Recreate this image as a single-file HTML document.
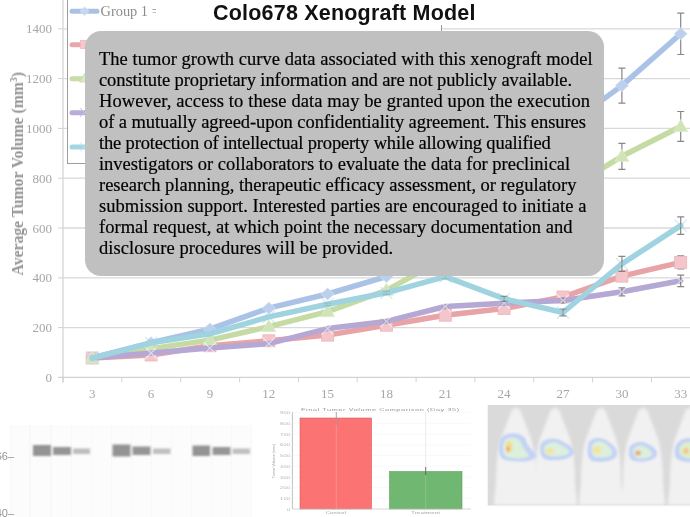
<!DOCTYPE html>
<html><head><meta charset="utf-8">
<style>
html,body{margin:0;padding:0;background:#fff;}
svg,#title,#ytitle{will-change:transform;}
#root{position:relative;width:690px;height:517px;overflow:hidden;background:#fff;}
svg text.tk{font-family:"Liberation Serif",serif;font-size:13px;fill:#a6a6a6;}
#ytitle{position:absolute;left:0;top:0;font-family:"Liberation Serif",serif;font-weight:bold;font-size:15.7px;color:#949494;white-space:nowrap;transform-origin:0 0;}
#legend{position:absolute;left:67px;top:-5px;width:374.5px;height:169px;border:1.5px solid #9c9c9c;background:#fff;box-sizing:border-box;}
#titlebg{position:absolute;left:155.5px;top:0;width:378px;height:25px;background:#fff;}
#title{position:absolute;left:213px;top:1px;font-family:"Liberation Sans",sans-serif;font-weight:bold;font-size:21.5px;color:#111;white-space:nowrap;letter-spacing:0.2px;}
#box{position:absolute;left:85px;top:31px;width:519px;height:244.8px;background:#c0c0c0;border-radius:16px;}
#box p{margin:0;will-change:transform;-webkit-text-stroke:0.2px #000;position:absolute;left:14.2px;top:18.3px;font-family:"Liberation Serif",serif;font-size:18.5px;line-height:21px;color:#000;white-space:nowrap;}
</style></head><body><div id="root">
<svg width="690" height="517" style="position:absolute;left:0;top:0">
<defs><filter id="cb" x="0" y="0" width="690" height="517" filterUnits="userSpaceOnUse"><feGaussianBlur stdDeviation="0.35"/></filter></defs>
<g filter="url(#cb)">
<line x1="63" y1="327.6" x2="690" y2="327.6" stroke="#d9d9d9" stroke-width="1.3"/>
<line x1="58" y1="327.6" x2="63" y2="327.6" stroke="#d2d2d2" stroke-width="1"/>
<line x1="63" y1="277.9" x2="690" y2="277.9" stroke="#d9d9d9" stroke-width="1.3"/>
<line x1="58" y1="277.9" x2="63" y2="277.9" stroke="#d2d2d2" stroke-width="1"/>
<line x1="63" y1="228.0" x2="690" y2="228.0" stroke="#d9d9d9" stroke-width="1.3"/>
<line x1="58" y1="228.0" x2="63" y2="228.0" stroke="#d2d2d2" stroke-width="1"/>
<line x1="63" y1="178.2" x2="690" y2="178.2" stroke="#d9d9d9" stroke-width="1.3"/>
<line x1="58" y1="178.2" x2="63" y2="178.2" stroke="#d2d2d2" stroke-width="1"/>
<line x1="63" y1="128.4" x2="690" y2="128.4" stroke="#d9d9d9" stroke-width="1.3"/>
<line x1="58" y1="128.4" x2="63" y2="128.4" stroke="#d2d2d2" stroke-width="1"/>
<line x1="63" y1="78.6" x2="690" y2="78.6" stroke="#d9d9d9" stroke-width="1.3"/>
<line x1="58" y1="78.6" x2="63" y2="78.6" stroke="#d2d2d2" stroke-width="1"/>
<line x1="63" y1="28.8" x2="690" y2="28.8" stroke="#d9d9d9" stroke-width="1.3"/>
<line x1="58" y1="28.8" x2="63" y2="28.8" stroke="#d2d2d2" stroke-width="1"/>
<line x1="63" y1="0" x2="63" y2="382.4" stroke="#d2d2d2" stroke-width="1.2"/>
<line x1="58" y1="377.4" x2="690" y2="377.4" stroke="#d2d2d2" stroke-width="1.2"/>
<line x1="63.0" y1="377.4" x2="63.0" y2="382.4" stroke="#d2d2d2" stroke-width="1"/>
<line x1="121.8" y1="377.4" x2="121.8" y2="382.4" stroke="#d2d2d2" stroke-width="1"/>
<line x1="180.7" y1="377.4" x2="180.7" y2="382.4" stroke="#d2d2d2" stroke-width="1"/>
<line x1="239.6" y1="377.4" x2="239.6" y2="382.4" stroke="#d2d2d2" stroke-width="1"/>
<line x1="298.4" y1="377.4" x2="298.4" y2="382.4" stroke="#d2d2d2" stroke-width="1"/>
<line x1="357.2" y1="377.4" x2="357.2" y2="382.4" stroke="#d2d2d2" stroke-width="1"/>
<line x1="416.1" y1="377.4" x2="416.1" y2="382.4" stroke="#d2d2d2" stroke-width="1"/>
<line x1="474.9" y1="377.4" x2="474.9" y2="382.4" stroke="#d2d2d2" stroke-width="1"/>
<line x1="533.8" y1="377.4" x2="533.8" y2="382.4" stroke="#d2d2d2" stroke-width="1"/>
<line x1="592.6" y1="377.4" x2="592.6" y2="382.4" stroke="#d2d2d2" stroke-width="1"/>
<line x1="651.5" y1="377.4" x2="651.5" y2="382.4" stroke="#d2d2d2" stroke-width="1"/>
<line x1="710.4" y1="377.4" x2="710.4" y2="382.4" stroke="#d2d2d2" stroke-width="1"/>
<text x="52" y="381.9" text-anchor="end" class="tk">0</text>
<text x="52" y="332.1" text-anchor="end" class="tk">200</text>
<text x="52" y="282.4" text-anchor="end" class="tk">400</text>
<text x="52" y="232.5" text-anchor="end" class="tk">600</text>
<text x="52" y="182.8" text-anchor="end" class="tk">800</text>
<text x="52" y="132.9" text-anchor="end" class="tk">1000</text>
<text x="52" y="83.1" text-anchor="end" class="tk">1200</text>
<text x="52" y="33.3" text-anchor="end" class="tk">1400</text>
<text x="92.2" y="397.8" text-anchor="middle" class="tk">3</text>
<text x="151.1" y="397.8" text-anchor="middle" class="tk">6</text>
<text x="209.9" y="397.8" text-anchor="middle" class="tk">9</text>
<text x="268.8" y="397.8" text-anchor="middle" class="tk">12</text>
<text x="327.6" y="397.8" text-anchor="middle" class="tk">15</text>
<text x="386.4" y="397.8" text-anchor="middle" class="tk">18</text>
<text x="445.3" y="397.8" text-anchor="middle" class="tk">21</text>
<text x="504.1" y="397.8" text-anchor="middle" class="tk">24</text>
<text x="563.0" y="397.8" text-anchor="middle" class="tk">27</text>
<text x="621.9" y="397.8" text-anchor="middle" class="tk">30</text>
<text x="680.7" y="397.8" text-anchor="middle" class="tk">33</text>
<polyline points="92.2,358.0 151.1,342.8 209.9,329.1 268.8,308.2 327.6,294.0 386.4,276.6 445.3,238.0 504.1,188.2 563.0,128.9 621.9,85.6 680.7,33.8" fill="none" stroke="#a9c2e6" stroke-width="5.5" stroke-linejoin="round" stroke-linecap="round"/>
<path d="M92.2 352.0L98.7 358.0L92.2 364.0L85.7 358.0Z" fill="#bcd0ee" stroke="#d0def2" stroke-width="0.8"/>
<path d="M151.1 336.8L157.6 342.8L151.1 348.8L144.6 342.8Z" fill="#bcd0ee" stroke="#d0def2" stroke-width="0.8"/>
<path d="M209.9 323.1L216.4 329.1L209.9 335.1L203.4 329.1Z" fill="#bcd0ee" stroke="#d0def2" stroke-width="0.8"/>
<path d="M268.8 307.0V309.5M265.2 307.0H272.2M265.2 309.5H272.2" stroke="#7a7a7a" stroke-width="1.2" stroke-opacity="0.35"/>
<path d="M268.8 302.2L275.3 308.2L268.8 314.2L262.3 308.2Z" fill="#bcd0ee" stroke="#d0def2" stroke-width="0.8"/>
<path d="M327.6 292.5V295.5M324.1 292.5H331.1M324.1 295.5H331.1" stroke="#7a7a7a" stroke-width="1.2" stroke-opacity="0.35"/>
<path d="M327.6 288.0L334.1 294.0L327.6 300.0L321.1 294.0Z" fill="#bcd0ee" stroke="#d0def2" stroke-width="0.8"/>
<path d="M386.4 274.6V278.6M382.9 274.6H389.9M382.9 278.6H389.9" stroke="#7a7a7a" stroke-width="1.2" stroke-opacity="0.35"/>
<path d="M386.4 270.6L392.9 276.6L386.4 282.6L379.9 276.6Z" fill="#bcd0ee" stroke="#d0def2" stroke-width="0.8"/>
<path d="M445.3 233.0V243.0M441.8 233.0H448.8M441.8 243.0H448.8" stroke="#7a7a7a" stroke-width="1.2" stroke-opacity="0.9"/>
<path d="M445.3 232.0L451.8 238.0L445.3 244.0L438.8 238.0Z" fill="#bcd0ee" stroke="#d0def2" stroke-width="0.8"/>
<path d="M504.1 180.7V195.7M500.6 180.7H507.6M500.6 195.7H507.6" stroke="#7a7a7a" stroke-width="1.2" stroke-opacity="0.9"/>
<path d="M504.1 182.2L510.6 188.2L504.1 194.2L497.6 188.2Z" fill="#bcd0ee" stroke="#d0def2" stroke-width="0.8"/>
<path d="M563.0 116.5V141.4M559.5 116.5H566.5M559.5 141.4H566.5" stroke="#7a7a7a" stroke-width="1.2" stroke-opacity="0.9"/>
<path d="M563.0 122.9L569.5 128.9L563.0 134.9L556.5 128.9Z" fill="#bcd0ee" stroke="#d0def2" stroke-width="0.8"/>
<path d="M621.9 68.2V103.1M618.4 68.2H625.4M618.4 103.1H625.4" stroke="#7a7a7a" stroke-width="1.2" stroke-opacity="0.9"/>
<path d="M621.9 79.6L628.4 85.6L621.9 91.6L615.4 85.6Z" fill="#bcd0ee" stroke="#d0def2" stroke-width="0.8"/>
<path d="M680.7 13.2V54.5M677.2 13.2H684.2M677.2 54.5H684.2" stroke="#7a7a7a" stroke-width="1.2" stroke-opacity="0.9"/>
<path d="M680.7 27.799999999999997L687.2 33.8L680.7 39.8L674.2 33.8Z" fill="#bcd0ee" stroke="#d0def2" stroke-width="0.8"/>
<polyline points="92.2,358.0 151.1,355.0 209.9,345.8 268.8,340.8 327.6,335.1 386.4,325.2 445.3,315.2 504.1,308.5 563.0,297.0 621.9,276.1 680.7,262.4" fill="none" stroke="#e8a3a6" stroke-width="5.5" stroke-linejoin="round" stroke-linecap="round"/>
<rect x="86.2" y="352.0" width="12" height="12" fill="#f4c6cc" stroke="#eab4b8" stroke-width="0.8"/>
<rect x="145.1" y="349.0" width="12" height="12" fill="#f4c6cc" stroke="#eab4b8" stroke-width="0.8"/>
<rect x="203.9" y="339.8" width="12" height="12" fill="#f4c6cc" stroke="#eab4b8" stroke-width="0.8"/>
<rect x="262.8" y="334.8" width="12" height="12" fill="#f4c6cc" stroke="#eab4b8" stroke-width="0.8"/>
<rect x="321.6" y="329.1" width="12" height="12" fill="#f4c6cc" stroke="#eab4b8" stroke-width="0.8"/>
<path d="M386.4 323.9V326.4M382.9 323.9H389.9M382.9 326.4H389.9" stroke="#7a7a7a" stroke-width="1.2" stroke-opacity="0.35"/>
<rect x="380.4" y="319.2" width="12" height="12" fill="#f4c6cc" stroke="#eab4b8" stroke-width="0.8"/>
<path d="M445.3 313.7V316.7M441.8 313.7H448.8M441.8 316.7H448.8" stroke="#7a7a7a" stroke-width="1.2" stroke-opacity="0.35"/>
<rect x="439.3" y="309.2" width="12" height="12" fill="#f4c6cc" stroke="#eab4b8" stroke-width="0.8"/>
<path d="M504.1 306.5V310.5M500.6 306.5H507.6M500.6 310.5H507.6" stroke="#7a7a7a" stroke-width="1.2" stroke-opacity="0.35"/>
<rect x="498.1" y="302.5" width="12" height="12" fill="#f4c6cc" stroke="#eab4b8" stroke-width="0.8"/>
<path d="M563.0 294.5V299.5M559.5 294.5H566.5M559.5 299.5H566.5" stroke="#7a7a7a" stroke-width="1.2" stroke-opacity="0.9"/>
<rect x="557.0" y="291.0" width="12" height="12" fill="#f4c6cc" stroke="#eab4b8" stroke-width="0.8"/>
<path d="M621.9 272.1V280.1M618.4 272.1H625.4M618.4 280.1H625.4" stroke="#7a7a7a" stroke-width="1.2" stroke-opacity="0.9"/>
<rect x="615.9" y="270.1" width="12" height="12" fill="#f4c6cc" stroke="#eab4b8" stroke-width="0.8"/>
<path d="M680.7 255.9V268.9M677.2 255.9H684.2M677.2 268.9H684.2" stroke="#7a7a7a" stroke-width="1.2" stroke-opacity="0.9"/>
<rect x="674.7" y="256.4" width="12" height="12" fill="#f4c6cc" stroke="#eab4b8" stroke-width="0.8"/>
<polyline points="92.2,358.0 151.1,348.6 209.9,340.1 268.8,326.7 327.6,311.7 386.4,290.3 445.3,257.9 504.1,223.1 563.0,192.2 621.9,156.3 680.7,126.5" fill="none" stroke="#c6dba4" stroke-width="5.5" stroke-linejoin="round" stroke-linecap="round"/>
<path d="M92.2 351.0L99.2 363.0L85.2 363.0Z" fill="#d0e4b8" stroke="#dcecc8" stroke-width="0.8"/>
<path d="M151.1 341.6L158.1 353.6L144.1 353.6Z" fill="#d0e4b8" stroke="#dcecc8" stroke-width="0.8"/>
<path d="M209.9 333.1L216.9 345.1L202.9 345.1Z" fill="#d0e4b8" stroke="#dcecc8" stroke-width="0.8"/>
<path d="M268.8 319.7L275.8 331.7L261.8 331.7Z" fill="#d0e4b8" stroke="#dcecc8" stroke-width="0.8"/>
<path d="M327.6 310.5V313.0M324.1 310.5H331.1M324.1 313.0H331.1" stroke="#7a7a7a" stroke-width="1.2" stroke-opacity="0.35"/>
<path d="M327.6 304.7L334.6 316.7L320.6 316.7Z" fill="#d0e4b8" stroke="#dcecc8" stroke-width="0.8"/>
<path d="M386.4 288.3V292.3M382.9 288.3H389.9M382.9 292.3H389.9" stroke="#7a7a7a" stroke-width="1.2" stroke-opacity="0.35"/>
<path d="M386.4 283.3L393.4 295.3L379.4 295.3Z" fill="#d0e4b8" stroke="#dcecc8" stroke-width="0.8"/>
<path d="M445.3 253.0V262.9M441.8 253.0H448.8M441.8 262.9H448.8" stroke="#7a7a7a" stroke-width="1.2" stroke-opacity="0.9"/>
<path d="M445.3 250.89999999999998L452.3 262.9L438.3 262.9Z" fill="#d0e4b8" stroke="#dcecc8" stroke-width="0.8"/>
<path d="M504.1 215.6V230.5M500.6 215.6H507.6M500.6 230.5H507.6" stroke="#7a7a7a" stroke-width="1.2" stroke-opacity="0.9"/>
<path d="M504.1 216.1L511.1 228.1L497.1 228.1Z" fill="#d0e4b8" stroke="#dcecc8" stroke-width="0.8"/>
<path d="M563.0 182.2V202.2M559.5 182.2H566.5M559.5 202.2H566.5" stroke="#7a7a7a" stroke-width="1.2" stroke-opacity="0.9"/>
<path d="M563.0 185.2L570.0 197.2L556.0 197.2Z" fill="#d0e4b8" stroke="#dcecc8" stroke-width="0.8"/>
<path d="M621.9 143.4V169.3M618.4 143.4H625.4M618.4 169.3H625.4" stroke="#7a7a7a" stroke-width="1.2" stroke-opacity="0.9"/>
<path d="M621.9 149.3L628.9 161.3L614.9 161.3Z" fill="#d0e4b8" stroke="#dcecc8" stroke-width="0.8"/>
<path d="M680.7 111.5V141.4M677.2 111.5H684.2M677.2 141.4H684.2" stroke="#7a7a7a" stroke-width="1.2" stroke-opacity="0.9"/>
<path d="M680.7 119.5L687.7 131.5L673.7 131.5Z" fill="#d0e4b8" stroke="#dcecc8" stroke-width="0.8"/>
<polyline points="92.2,358.0 151.1,353.0 209.9,348.1 268.8,343.6 327.6,328.6 386.4,321.4 445.3,306.5 504.1,303.2 563.0,300.5 621.9,291.8 680.7,280.8" fill="none" stroke="#b6a8d4" stroke-width="5.5" stroke-linejoin="round" stroke-linecap="round"/>
<path d="M86.2 352.0L98.2 364.0M98.2 352.0L86.2 364.0" stroke="#ffffff" stroke-opacity="0.55" stroke-width="1.2"/>
<path d="M145.1 347.0L157.1 359.0M157.1 347.0L145.1 359.0" stroke="#ffffff" stroke-opacity="0.55" stroke-width="1.2"/>
<path d="M203.9 342.1L215.9 354.1M215.9 342.1L203.9 354.1" stroke="#ffffff" stroke-opacity="0.55" stroke-width="1.2"/>
<path d="M262.8 337.6L274.8 349.6M274.8 337.6L262.8 349.6" stroke="#ffffff" stroke-opacity="0.55" stroke-width="1.2"/>
<path d="M321.6 322.6L333.6 334.6M333.6 322.6L321.6 334.6" stroke="#ffffff" stroke-opacity="0.55" stroke-width="1.2"/>
<path d="M386.4 320.2V322.7M382.9 320.2H389.9M382.9 322.7H389.9" stroke="#7a7a7a" stroke-width="1.2" stroke-opacity="0.35"/>
<path d="M380.4 315.4L392.4 327.4M392.4 315.4L380.4 327.4" stroke="#ffffff" stroke-opacity="0.55" stroke-width="1.2"/>
<path d="M445.3 305.0V308.0M441.8 305.0H448.8M441.8 308.0H448.8" stroke="#7a7a7a" stroke-width="1.2" stroke-opacity="0.35"/>
<path d="M439.3 300.5L451.3 312.5M451.3 300.5L439.3 312.5" stroke="#ffffff" stroke-opacity="0.55" stroke-width="1.2"/>
<path d="M504.1 301.3V305.2M500.6 301.3H507.6M500.6 305.2H507.6" stroke="#7a7a7a" stroke-width="1.2" stroke-opacity="0.35"/>
<path d="M498.1 297.2L510.1 309.2M510.1 297.2L498.1 309.2" stroke="#ffffff" stroke-opacity="0.55" stroke-width="1.2"/>
<path d="M563.0 298.0V303.0M559.5 298.0H566.5M559.5 303.0H566.5" stroke="#7a7a7a" stroke-width="1.2" stroke-opacity="0.9"/>
<path d="M557.0 294.5L569.0 306.5M569.0 294.5L557.0 306.5" stroke="#ffffff" stroke-opacity="0.55" stroke-width="1.2"/>
<path d="M621.9 287.8V295.8M618.4 287.8H625.4M618.4 295.8H625.4" stroke="#7a7a7a" stroke-width="1.2" stroke-opacity="0.9"/>
<path d="M615.9 285.8L627.9 297.8M627.9 285.8L615.9 297.8" stroke="#ffffff" stroke-opacity="0.55" stroke-width="1.2"/>
<path d="M680.7 275.1V286.6M677.2 275.1H684.2M677.2 286.6H684.2" stroke="#7a7a7a" stroke-width="1.2" stroke-opacity="0.9"/>
<path d="M674.7 274.8L686.7 286.8M686.7 274.8L674.7 286.8" stroke="#ffffff" stroke-opacity="0.55" stroke-width="1.2"/>
<polyline points="92.2,358.0 151.1,342.8 209.9,333.9 268.8,316.9 327.6,304.2 386.4,292.8 445.3,276.6 504.1,298.8 563.0,312.5 621.9,263.9 680.7,225.6" fill="none" stroke="#9fd3e0" stroke-width="5.5" stroke-linejoin="round" stroke-linecap="round"/>
<path d="M86.2 352.0L98.2 364.0M98.2 352.0L86.2 364.0" stroke="#9fd3e0" stroke-opacity="0.5" stroke-width="1.2"/>
<path d="M145.1 336.8L157.1 348.8M157.1 336.8L145.1 348.8" stroke="#9fd3e0" stroke-opacity="0.5" stroke-width="1.2"/>
<path d="M203.9 327.9L215.9 339.9M215.9 327.9L203.9 339.9" stroke="#9fd3e0" stroke-opacity="0.5" stroke-width="1.2"/>
<path d="M262.8 310.9L274.8 322.9M274.8 310.9L262.8 322.9" stroke="#9fd3e0" stroke-opacity="0.5" stroke-width="1.2"/>
<path d="M327.6 303.0V305.5M324.1 303.0H331.1M324.1 305.5H331.1" stroke="#7a7a7a" stroke-width="1.2" stroke-opacity="0.35"/>
<path d="M321.6 298.2L333.6 310.2M333.6 298.2L321.6 310.2" stroke="#9fd3e0" stroke-opacity="0.5" stroke-width="1.2"/>
<path d="M386.4 291.3V294.3M382.9 291.3H389.9M382.9 294.3H389.9" stroke="#7a7a7a" stroke-width="1.2" stroke-opacity="0.35"/>
<path d="M380.4 286.8L392.4 298.8M392.4 286.8L380.4 298.8" stroke="#9fd3e0" stroke-opacity="0.5" stroke-width="1.2"/>
<path d="M445.3 274.6V278.6M441.8 274.6H448.8M441.8 278.6H448.8" stroke="#7a7a7a" stroke-width="1.2" stroke-opacity="0.35"/>
<path d="M439.3 270.6L451.3 282.6M451.3 270.6L439.3 282.6" stroke="#9fd3e0" stroke-opacity="0.5" stroke-width="1.2"/>
<path d="M504.1 296.3V301.3M500.6 296.3H507.6M500.6 301.3H507.6" stroke="#7a7a7a" stroke-width="1.2" stroke-opacity="0.9"/>
<path d="M498.1 292.8L510.1 304.8M510.1 292.8L498.1 304.8" stroke="#9fd3e0" stroke-opacity="0.5" stroke-width="1.2"/>
<path d="M563.0 309.0V315.9M559.5 309.0H566.5M559.5 315.9H566.5" stroke="#7a7a7a" stroke-width="1.2" stroke-opacity="0.9"/>
<path d="M557.0 306.5L569.0 318.5M569.0 306.5L557.0 318.5" stroke="#9fd3e0" stroke-opacity="0.5" stroke-width="1.2"/>
<path d="M621.9 256.4V271.4M618.4 256.4H625.4M618.4 271.4H625.4" stroke="#7a7a7a" stroke-width="1.2" stroke-opacity="0.9"/>
<path d="M615.9 257.9L627.9 269.9M627.9 257.9L615.9 269.9" stroke="#9fd3e0" stroke-opacity="0.5" stroke-width="1.2"/>
<path d="M680.7 216.8V234.3M677.2 216.8H684.2M677.2 234.3H684.2" stroke="#7a7a7a" stroke-width="1.2" stroke-opacity="0.9"/>
<path d="M674.7 219.6L686.7 231.6M686.7 219.6L674.7 231.6" stroke="#9fd3e0" stroke-opacity="0.5" stroke-width="1.2"/>
</g>
</svg>
<div id="legend"></div>
<svg width="690" height="517" style="position:absolute;left:0;top:0">
<g>
<line x1="72" y1="11.3" x2="97" y2="11.3" stroke="#a9c1e4" stroke-width="5" stroke-linecap="round"/>
<path d="M84.5 7L89 11.3L84.5 15.6L80 11.3Z" fill="#c4d6f0" stroke="#d6e2f4" stroke-width="0.8"/>
<text x="100.5" y="15.8" style="font-family:'Liberation Serif',serif;font-size:14.4px;fill:#8c8c8c">Group 1 =</text>
<line x1="72" y1="44.7" x2="97" y2="44.7" stroke="#e8a8aa" stroke-width="5" stroke-linecap="round"/>
<rect x="80.5" y="40.5" width="8" height="8" fill="#f4c8cc" stroke="#f0b8bc" stroke-width="0.8"/>
<line x1="72" y1="78.7" x2="97" y2="78.7" stroke="#c8dca8" stroke-width="5" stroke-linecap="round"/>
<path d="M84.5 73.5L89.5 82L79.5 82Z" fill="#d8e8c0" stroke="#c8dca8" stroke-width="0.8"/>
<line x1="72" y1="112.7" x2="97" y2="112.7" stroke="#baacd6" stroke-width="5" stroke-linecap="round"/>
<path d="M80 108L89 117M89 108L80 117" stroke="#c8bee0" stroke-width="1"/>
<line x1="72" y1="147" x2="97" y2="147" stroke="#a4d6e2" stroke-width="5" stroke-linecap="round"/>
<path d="M80 142.5L89 151.5M89 142.5L80 151.5" stroke="#c0e2ea" stroke-width="1"/>
</g>

</svg>
<div id="ytitle" style="transform:translate(8px,275.5px) rotate(-90deg)">Average Tumor Volume (mm<sup style="font-size:10px">3</sup>)</div>
<div id="titlebg"></div>
<div id="title">Colo678 Xenograft Model</div>
<div id="box"><p><span style="letter-spacing:0.030px">The tumor growth curve data associated with this xenograft model</span><br><span style="letter-spacing:-0.088px">constitute proprietary information and are not publicly available.</span><br><span style="letter-spacing:0.103px">However, access to these data may be granted upon the execution</span><br><span style="letter-spacing:-0.077px">of a mutually agreed-upon confidentiality agreement. This ensures</span><br><span style="letter-spacing:-0.159px">the protection of intellectual property while allowing qualified</span><br><span style="letter-spacing:-0.021px">investigators or collaborators to evaluate the data for preclinical</span><br><span style="letter-spacing:-0.014px">research planning, therapeutic efficacy assessment, or regulatory</span><br><span style="letter-spacing:0.044px">submission support. Interested parties are encouraged to initiate a</span><br><span style="letter-spacing:0.023px">formal request, at which point the necessary documentation and</span><br><span style="letter-spacing:0.074px">disclosure procedures will be provided.</span></p></div>
<div id="blot" style="position:absolute;left:10px;top:425px;width:242px;height:92px;background:#f8f8f8;">
</div>
<svg width="690" height="517" style="position:absolute;left:0;top:0">
<defs>
<filter id="bl1" x="-20%" y="-50%" width="140%" height="200%"><feGaussianBlur stdDeviation="0.8"/></filter>
<filter id="bl2" x="-20%" y="-50%" width="140%" height="200%"><feGaussianBlur stdDeviation="1.2"/></filter>
</defs>
<g fill="#fcfcfc">
<rect x="11" y="425" width="18" height="92"/>
<rect x="31" y="425" width="19" height="92"/>
<rect x="52" y="425" width="19" height="92"/>
<rect x="72" y="425" width="19" height="92"/>
<rect x="92" y="425" width="19" height="92"/>
<rect x="112" y="425" width="19" height="92"/>
<rect x="132" y="425" width="19" height="92"/>
<rect x="152" y="425" width="19" height="92"/>
<rect x="172" y="425" width="19" height="92"/>
<rect x="192" y="425" width="19" height="92"/>
<rect x="212" y="425" width="19" height="92"/>
<rect x="232" y="425" width="19" height="92"/>
</g>
<g filter="url(#bl1)">
<rect x="33" y="445" width="18" height="11" fill="#939393"/>
<rect x="53" y="447" width="18" height="8" fill="#959595"/>
<rect x="73" y="448.5" width="17" height="5.5" fill="#bdbdbd"/>
<rect x="112.5" y="444.5" width="18" height="12" fill="#939393"/>
<rect x="132.5" y="446.5" width="18" height="8.5" fill="#959595"/>
<rect x="153" y="448.5" width="17.5" height="5.5" fill="#bfbfbf"/>
<rect x="192.5" y="445.5" width="17.5" height="10.5" fill="#939393"/>
<rect x="212.5" y="447" width="18" height="8" fill="#969696"/>
<rect x="232.5" y="448.5" width="17.5" height="5.5" fill="#bfbfbf"/>
</g>
<text x="14" y="459.5" text-anchor="end" style="font-family:'Liberation Sans',sans-serif;font-size:11px;fill:#959595">66–</text>
<text x="14" y="516.5" text-anchor="end" style="font-family:'Liberation Sans',sans-serif;font-size:11px;fill:#959595">40–</text>
</svg>
<svg width="690" height="517" style="position:absolute;left:0;top:0">
<g stroke="#f5f5f5" stroke-width="0.6">
<line x1="292.5" y1="412.6" x2="471" y2="412.6"/>
<line x1="292.5" y1="423.3" x2="471" y2="423.3"/>
<line x1="292.5" y1="434" x2="471" y2="434"/>
<line x1="292.5" y1="444.8" x2="471" y2="444.8"/>
<line x1="292.5" y1="455.5" x2="471" y2="455.5"/>
<line x1="292.5" y1="466.2" x2="471" y2="466.2"/>
<line x1="292.5" y1="477" x2="471" y2="477"/>
<line x1="292.5" y1="487.7" x2="471" y2="487.7"/>
<line x1="292.5" y1="498.4" x2="471" y2="498.4"/>
</g>
<rect x="300" y="418" width="71.5" height="91" fill="#fb7373" stroke="#d85c5c" stroke-width="0.6"/>
<rect x="389.5" y="471.5" width="72.5" height="37.5" fill="#70b872" stroke="#5ea060" stroke-width="0.6"/>
<line x1="336.3" y1="412" x2="336.3" y2="509" stroke="#ffffff" stroke-opacity="0.25" stroke-width="0.8"/>
<line x1="425.7" y1="412" x2="425.7" y2="509" stroke="#c8c8c8" stroke-opacity="0.6" stroke-width="0.6"/>
<line x1="336.3" y1="412" x2="336.3" y2="425" stroke="#909090" stroke-width="0.8"/>
<line x1="425.7" y1="467" x2="425.7" y2="475" stroke="#505050" stroke-width="0.8"/>
<line x1="292.4" y1="412" x2="292.4" y2="509" stroke="#a8a8a8" stroke-width="0.7"/>
<line x1="292.4" y1="509" x2="471" y2="509" stroke="#c4c4c4" stroke-width="0.7"/>
<g style="font-family:'Liberation Sans',sans-serif;font-size:5.6px;fill:#b2b2b2;letter-spacing:0.3px" text-anchor="end">
<text transform="translate(290.3,414.2) scale(1,0.75)">900</text>
<text transform="translate(290.3,424.9) scale(1,0.75)">800</text>
<text transform="translate(290.3,435.6) scale(1,0.75)">700</text>
<text transform="translate(290.3,446.3) scale(1,0.75)">600</text>
<text transform="translate(290.3,457.0) scale(1,0.75)">500</text>
<text transform="translate(290.3,467.8) scale(1,0.75)">400</text>
<text transform="translate(290.3,478.5) scale(1,0.75)">300</text>
<text transform="translate(290.3,489.2) scale(1,0.75)">200</text>
<text transform="translate(290.3,499.9) scale(1,0.75)">100</text>
<text transform="translate(290.3,510.6) scale(1,0.75)">0</text>
</g>
<text transform="translate(301,411.3) scale(1,0.55)" style="font-family:'Liberation Sans',sans-serif;font-size:7.3px;letter-spacing:0.6px;fill:#959595">Final Tumor Volume Comparison (Day 35)</text>
<text transform="translate(336,513.8) scale(1,0.6)" text-anchor="middle" style="font-family:'Liberation Sans',sans-serif;font-size:5.8px;letter-spacing:0.3px;fill:#a0a0a0">Control</text>
<text transform="translate(425.7,513.8) scale(1,0.6)" text-anchor="middle" style="font-family:'Liberation Sans',sans-serif;font-size:5.8px;letter-spacing:0.3px;fill:#a0a0a0">Treatment</text>
<text transform="translate(275,461) rotate(-90)" text-anchor="middle" style="font-family:'Liberation Sans',sans-serif;font-size:3.7px;fill:#969696">Tumor Volume (mm³)</text>
</svg>
<svg width="690" height="517" style="position:absolute;left:0;top:0">
<defs>
<filter id="mb" x="-30%" y="-30%" width="160%" height="160%"><feGaussianBlur stdDeviation="1.5"/></filter>
<filter id="hb" x="-50%" y="-50%" width="200%" height="200%"><feGaussianBlur stdDeviation="1.3"/></filter>
</defs>
<rect x="487.7" y="405" width="210" height="100.5" fill="#dadada"/>
<g fill="#f1f1f1" filter="url(#mb)">
<path transform="translate(516,408)" d="M0 0 C3 0 5 3 6 7 L14 28 C18 38 20 55 20 75 C21 85 22 92 22 97 L-22 97 C-22 92 -21 85 -20 75 C-20 55 -18 38 -14 28 L-6 7 C-5 3 -3 0 0 0Z"/>
<path transform="translate(555,408)" d="M0 0 C3 0 5 3 6 7 L14 28 C18 38 20 55 20 75 C21 85 22 92 22 97 L-22 97 C-22 92 -21 85 -20 75 C-20 55 -18 38 -14 28 L-6 7 C-5 3 -3 0 0 0Z"/>
<path transform="translate(601,408)" d="M0 0 C3 0 5 3 6 7 L14 28 C18 38 20 55 20 75 C21 85 22 92 22 97 L-22 97 C-22 92 -21 85 -20 75 C-20 55 -18 38 -14 28 L-6 7 C-5 3 -3 0 0 0Z"/>
<path transform="translate(643,408)" d="M0 0 C3 0 5 3 6 7 L14 28 C18 38 20 55 20 75 C21 85 22 92 22 97 L-22 97 C-22 92 -21 85 -20 75 C-20 55 -18 38 -14 28 L-6 7 C-5 3 -3 0 0 0Z"/>
<path transform="translate(690,408)" d="M0 0 C3 0 5 3 6 7 L14 28 C18 38 20 55 20 75 C21 85 22 92 22 97 L-22 97 C-22 92 -21 85 -20 75 C-20 55 -18 38 -14 28 L-6 7 C-5 3 -3 0 0 0Z"/>
</g>
<g filter="url(#hb)">
<path d="M500 440 C502 432 522 430 526 440 C528 448 534 450 536 455 C536 462 520 463 505 460 C498 458 498 448 500 440Z" fill="#c4d3f5"/>
<path d="M504 442 C506 436 518 436 521 443 C523 450 528 452 529 456 C526 459 514 459 507 457 C503 455 502 448 504 442Z" fill="#dcf0dc"/>
<ellipse cx="509" cy="447" rx="3.5" ry="6" fill="#f2dc90"/>
<ellipse cx="508" cy="449" rx="1.5" ry="2.5" fill="#f0a070"/>
<path d="M540 448 C540 440 550 436 560 440 C566 444 574 446 574 452 C573 459 560 461 548 460 C542 459 540 455 540 448Z" fill="#c4d3f5"/>
<path d="M544 449 C545 443 553 441 559 444 C564 447 569 449 569 452 C568 456 558 457 550 456 C546 455 544 453 544 449Z" fill="#dcf0dc"/>
<ellipse cx="550" cy="451" rx="4" ry="3" fill="#f2e4a0"/>
<path d="M588 445 C588 438 600 436 606 440 C612 444 618 448 617 455 C615 462 600 463 592 461 C587 458 587 452 588 445Z" fill="#c4d3f5"/>
<path d="M592 446 C593 441 601 440 605 443 C609 446 613 450 612 454 C610 458 600 458 595 457 C592 455 591 451 592 446Z" fill="#dcf0dc"/>
<ellipse cx="597" cy="450" rx="4" ry="4" fill="#f2e4a0"/>
<path d="M629 450 C629 443 640 440 646 443 C652 446 658 449 657 455 C655 461 642 463 634 461 C629 459 628 455 629 450Z" fill="#c4d3f5"/>
<path d="M633 451 C634 446 641 444 645 447 C649 449 653 452 652 455 C650 458 641 459 637 458 C634 456 633 454 633 451Z" fill="#dcf0dc"/>
<ellipse cx="638" cy="453" rx="3" ry="2.5" fill="#f0a880"/>
<path d="M676 445 C680 438 690 436 695 440 L695 462 C688 463 680 462 676 458 C674 454 674 450 676 445Z" fill="#c4d3f5"/>
<path d="M680 447 C683 442 690 441 695 444 L695 458 C690 459 683 458 681 455 C679 452 679 450 680 447Z" fill="#e0eec8"/>
<ellipse cx="686" cy="451" rx="3" ry="3" fill="#f2c890"/>
</g>
</svg>

</div></body></html>
